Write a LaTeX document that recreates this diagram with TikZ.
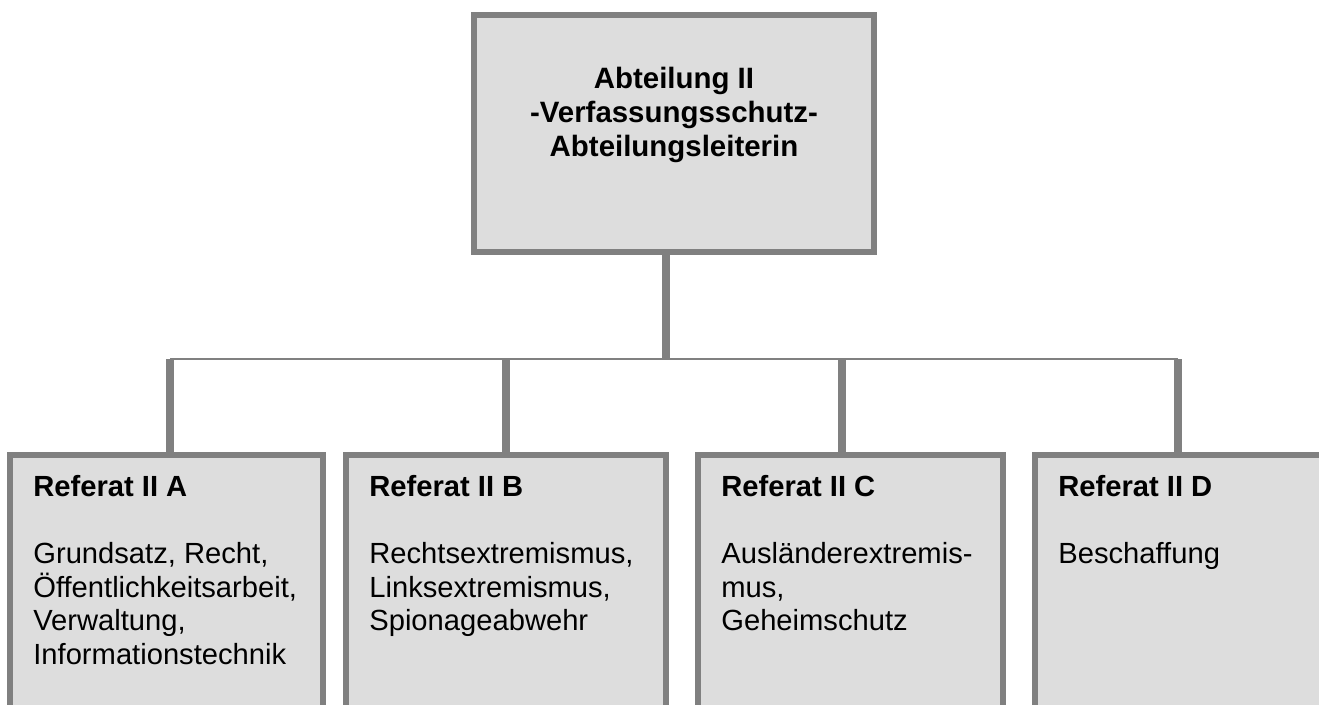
\documentclass[tikz,border=0pt]{standalone}
\usepackage{fontspec}
\setmainfont{Liberation Sans}
\definecolor{rahmen}{HTML}{808080}
\definecolor{fuellung}{HTML}{DDDDDD}
\tikzset{
  kasten/.style={draw=rahmen, fill=fuellung, line width=0.12cm, outer sep=0pt, inner sep=0pt, anchor=north west},
  kastentext/.style={anchor=north west, inner sep=0pt, align=left, font=\fontsize{16.6pt}{19.1pt}\selectfont},
  strang/.style={draw=rahmen, line width=0.15cm},
  schiene/.style={draw=rahmen, line width=0.04cm}
}

\begin{document}
\begin{tikzpicture}[x=0.02cm, y=-0.02cm]
    \useasboundingbox (0,0) rectangle (1319,704);
    \clip (0,0) rectangle (1319,704);
    % Abteilungsleitung
    \node[kasten, minimum width=8cm, minimum height=4.74cm] (abt) at (474,15) {};
    \node[anchor=north, inner sep=0pt, align=center, font=\fontsize{16.75pt}{19.4pt}\selectfont\bfseries] (abttext) at (674,67)
      {Abteilung II\\-Verfassungsschutz-\\Abteilungsleiterin};
    % Referate
    \node[kasten, minimum width=6.26cm, minimum height=5.7cm] (refA) at (10,455) {};
    \node[kasten, minimum width=6.4cm, minimum height=5.7cm] (refB) at (346,455) {};
    \node[kasten, minimum width=6.1cm, minimum height=5.7cm] (refC) at (698,455) {};
    \node[kasten, minimum width=6.26cm, minimum height=5.7cm] (refD) at (1035,455) {};
    \node[kastentext] (textA) at ([shift={(23,20)}]refA.north west)
      {\textbf{Referat II A}\\[19.1pt]Grundsatz, Recht,\\Öffentlichkeitsarbeit,\\Verwaltung,\\Informationstechnik};
    \node[kastentext] (textB) at ([shift={(23,20)}]refB.north west)
      {\textbf{Referat II B}\\[19.1pt]Rechtsextremismus,\\Linksextremismus,\\Spionageabwehr};
    \node[kastentext] (textC) at ([shift={(23,20)}]refC.north west)
      {\textbf{Referat II C}\\[19.1pt]Ausländerextremis-\\mus,\\Geheimschutz};
    \node[kastentext] (textD) at ([shift={(23,20)}]refD.north west)
      {\textbf{Referat II D}\\[19.1pt]Beschaffung};
    % Verbindungen
    \coordinate (knoten) at (666,359);
    \draw[strang] (abt.south -| knoten) -- (knoten);
    \foreach \n/\x in {A/170,B/506,C/842,D/1178} {
      \coordinate (bus\n) at (\x,359);
      \draw[strang] (bus\n) -- (bus\n |- ref\n.north);
    }
    \draw[schiene] (busA) -- (busD);
\end{tikzpicture}
\end{document}
